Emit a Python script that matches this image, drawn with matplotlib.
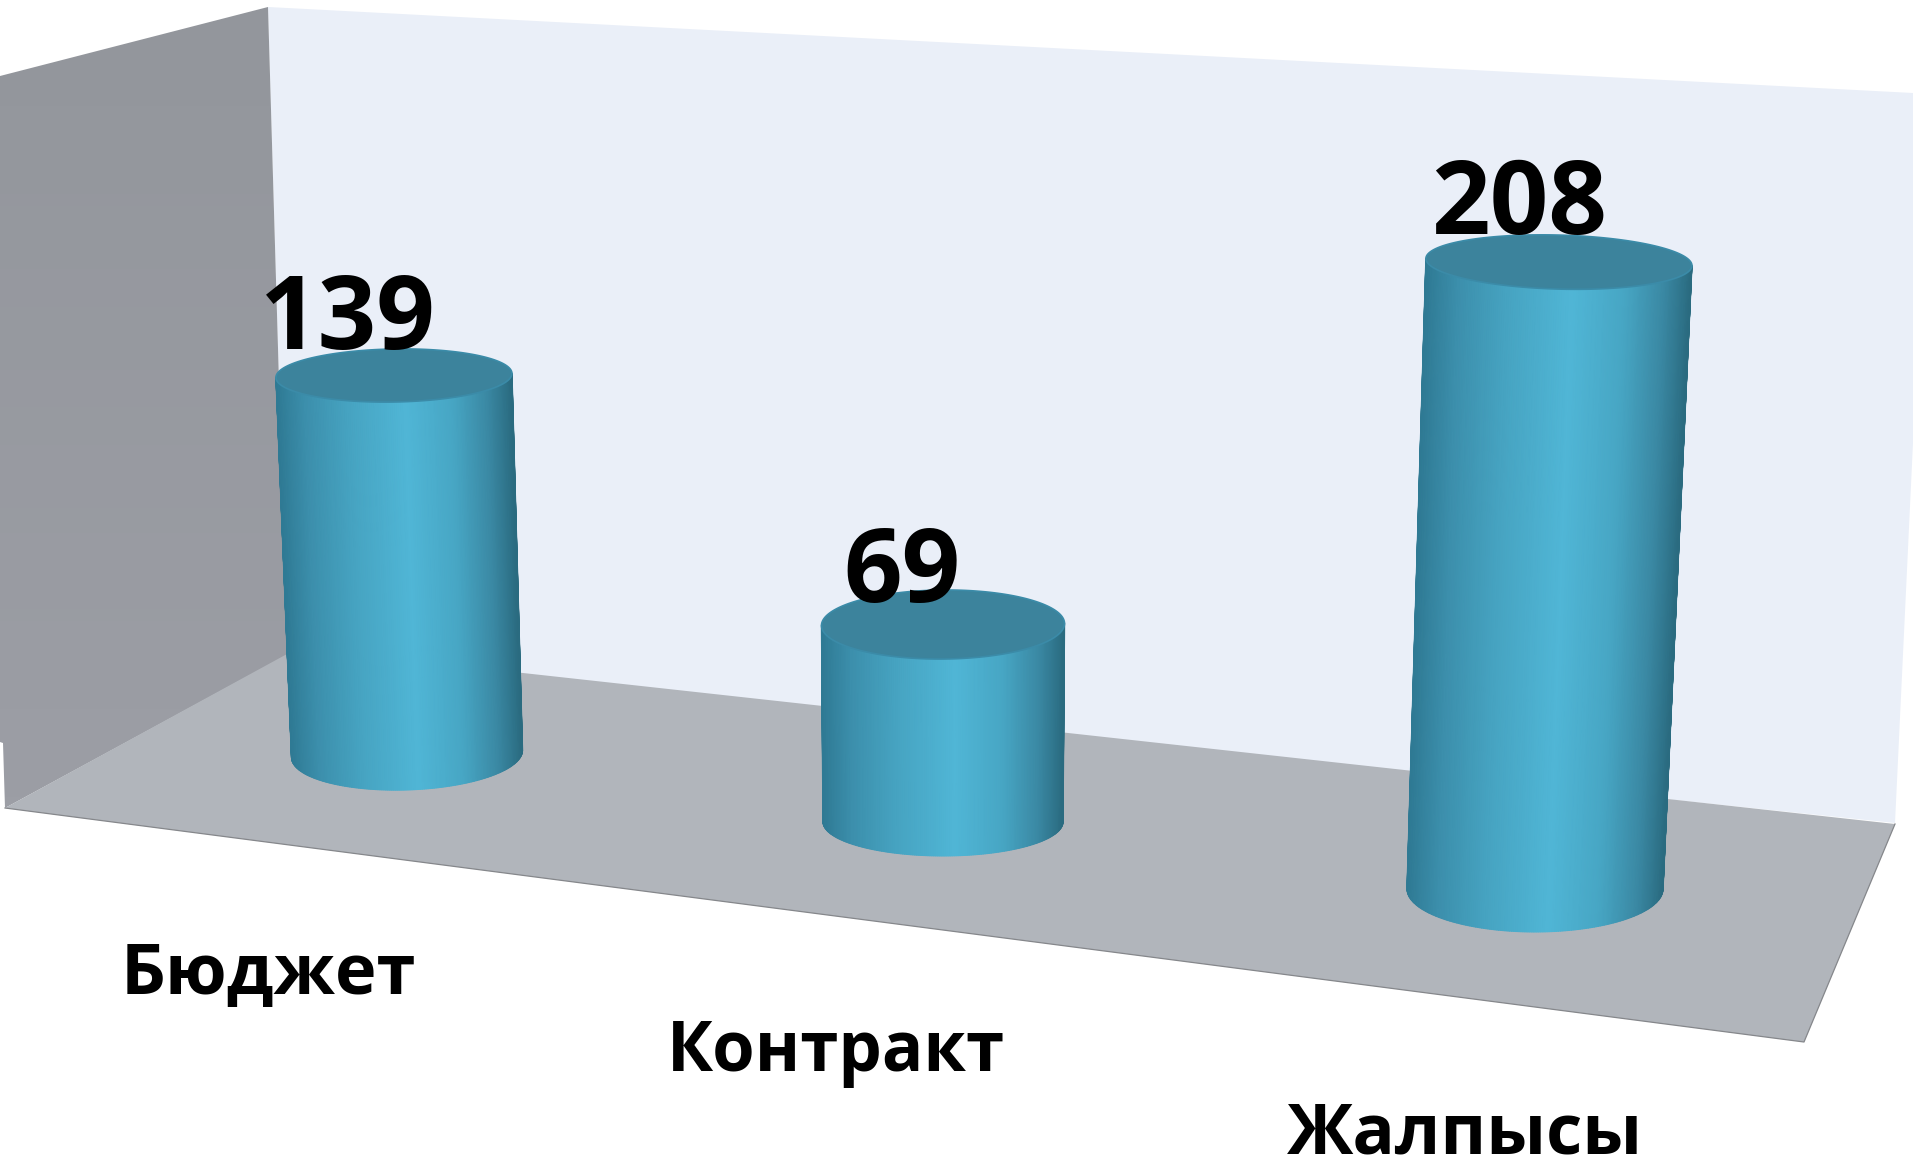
import numpy as np
import matplotlib
matplotlib.use('Agg')
import matplotlib.pyplot as plt
from matplotlib.colors import LinearSegmentedColormap
from matplotlib.patches import Polygon

# data
categories = ['Бюджет', 'Контракт', 'Жалпысы']
values = [139, 69, 208]

# layout of the 3d scene, in image pixels
base_x = [407, 943, 1535]
base_y = [754, 822, 889]
unit_h = [2.723, 2.862, 3.014]
unit_lean = [-0.094, 0.0, 0.115]
base_a = [115.5, 120, 128]
base_b = [36, 34, 43]
base_tilt = [-3.5, 0, 0]
top_a = [118, 121.5, 133]
top_b = [26.5, 34.5, 27]
top_tilt = [-2, -1, 3.5]
label_dx = [-46, -41, -40]
label_dy = [-27, -22.5, -28]
cat_x = [268, 836, 1465]
cat_y = [994, 1071, 1154]
cat_size = [50.7, 49.5, 50.7]

back_wall = [(268, 7), (1913, 93), (1913, 443), (1895, 823), (287, 655)]
left_wall = [(0, 76), (268, 7), (287, 655), (5, 808), (3, 743), (0, 742)]
floor = [(287, 654), (523, 673), (1895, 824), (1804, 1042), (5, 808)]

shade = LinearSegmentedColormap.from_list('cyl', [
    (0.0, '#2f7a94'), (0.12, '#3c8fac'), (0.3, '#46a3c1'), (0.55, '#50b6d6'),
    (0.75, '#47a6c4'), (0.9, '#3a88a3'), (1.0, '#2a6b80')])
side_wall = LinearSegmentedColormap.from_list('wall', ['#93969c', '#9c9ea5'])
cap_color = '#3c839c'

plt.rcParams['font.family'] = ['Open Sans', 'DejaVu Sans']
fig = plt.figure(figsize=(19.13, 11.61), dpi=100)
ax = fig.add_axes([0, 0, 1, 1])
ax.axis('off')

ax.add_patch(Polygon(back_wall, facecolor='#eaeff8', edgecolor='none', zorder=1))
lw_patch = Polygon(left_wall, facecolor='none', edgecolor='none', zorder=1)
ax.add_patch(lw_patch)
im = ax.imshow(np.linspace(0, 1, 64).reshape(-1, 1), extent=(0, 290, 810, 5), cmap=side_wall,
               aspect='auto', zorder=1)
im.set_clip_path(lw_patch)
ax.add_patch(Polygon(floor, facecolor='#b1b5bb', edgecolor='none', zorder=2))
ax.plot([5, 1804, 1895], [808, 1042, 824], color='#85878b', lw=0.9, zorder=2)

theta = np.linspace(np.pi, 0, 180)
for i, v in enumerate(values):
    tx = base_x[i] + v * unit_lean[i]
    ty = base_y[i] - v * unit_h[i]

    # side of the cylinder, front half of the two ellipses joined up
    xb = base_x[i] + base_a[i] * np.cos(theta)
    yb = base_y[i] + base_b[i] * np.sin(theta) + base_tilt[i] * np.cos(theta)
    xt = tx + top_a[i] * np.cos(theta)
    yt = ty + top_b[i] * np.sin(theta) + top_tilt[i] * np.cos(theta)
    X = np.vstack([xt, xb])
    Y = np.vstack([yt, yb])
    C = np.tile((np.cos(theta) + 1) / 2, (2, 1))
    ax.pcolormesh(X, Y, C, shading='gouraud', cmap=shade, vmin=0, vmax=1, zorder=3)
    ax.plot(X[:, 0], Y[:, 0], color=shade(0.0), lw=1, zorder=3)
    ax.plot(X[:, -1], Y[:, -1], color=shade(1.0), lw=1, zorder=3)

    # top cap
    t = np.linspace(0, 2 * np.pi, 200)
    cap = np.column_stack([tx + top_a[i] * np.cos(t),
                           ty + top_b[i] * np.sin(t) + top_tilt[i] * np.cos(t)])
    ax.add_patch(Polygon(cap, facecolor=cap_color, edgecolor='#3b8ba8', linewidth=1.2, zorder=4))

    ax.text(tx + label_dx[i], ty + label_dy[i], str(v), fontsize=74, fontweight='bold',
            ha='center', va='baseline', color='black', zorder=5)
    ax.text(cat_x[i], cat_y[i], categories[i], fontsize=cat_size[i], fontweight='bold',
            ha='center', va='baseline', color='black', zorder=5)

ax.set_xlim(0, 1913)
ax.set_ylim(1161, 0)
fig.savefig('out.png', dpi=100, facecolor='white')
